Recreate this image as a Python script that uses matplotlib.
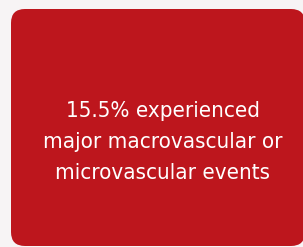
import matplotlib
matplotlib.use("Agg")
import matplotlib.pyplot as plt
from matplotlib.patches import FancyBboxPatch

lines = ["15.5% experienced", "major macrovascular or", "microvascular events"]
bg_color = "#f7f4f5"
box_color = "#bd161d"

fig = plt.figure(figsize=(3.03, 2.47), dpi=100)
fig.patch.set_facecolor(bg_color)
ax = fig.add_axes([0, 0, 1, 1])
ax.set_xlim(0, 303)
ax.set_ylim(247, 0)
ax.axis("off")

box = FancyBboxPatch((11 + 14, 9 + 14), 305 - 11 - 28, 246 - 9 - 28,
                     boxstyle="round,pad=14", fc=box_color, ec="none")
ax.add_patch(box)

ys = [117, 148, 179]
for t, y in zip(lines, ys):
    ax.text(162.5, y, t, ha="center", va="baseline", color="white",
            fontsize=16, family="DejaVu Sans", fontstretch="condensed")

fig.savefig("out.png", dpi=100, facecolor=bg_color)
